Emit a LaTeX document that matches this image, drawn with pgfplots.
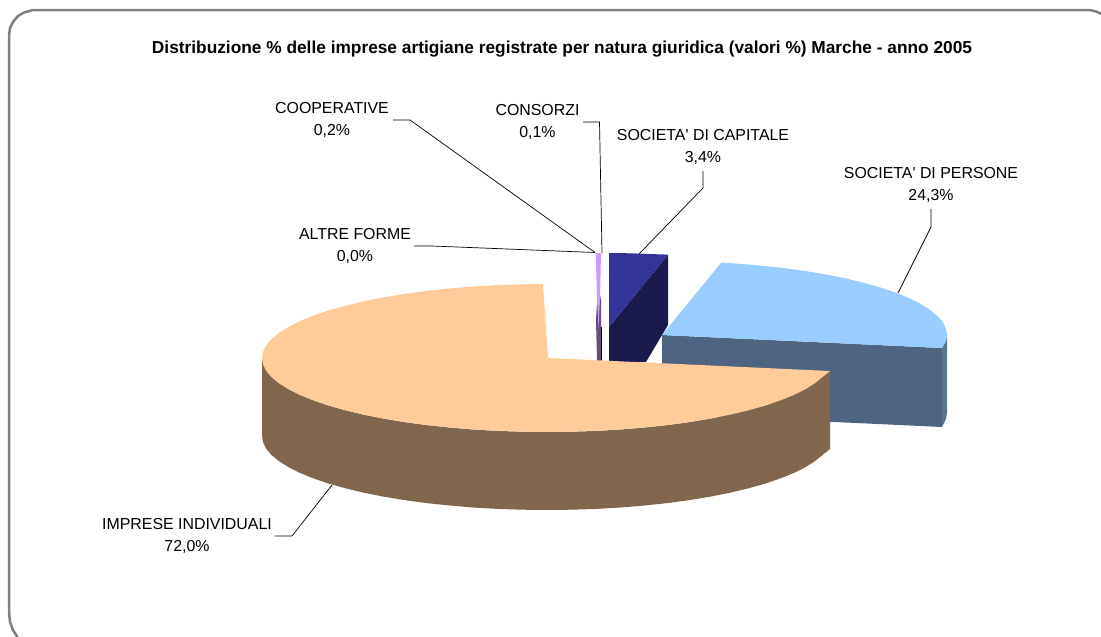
\documentclass[border=0pt]{standalone}
\usepackage{fontspec}
\setmainfont{Liberation Sans}
\usepackage{pgfplots}
\pgfplotsset{compat=1.18}

\definecolor{frame}{HTML}{808080}
\definecolor{peach}{HTML}{FFCC99}
\definecolor{brownside}{HTML}{7F664D}
\definecolor{sky}{HTML}{99CCFF}
\definecolor{skyside}{HTML}{4F6480}
\definecolor{skyarc}{HTML}{5A7391}
\definecolor{navy}{HTML}{333399}
\definecolor{navyside}{HTML}{1A1A4D}
\definecolor{lilac}{HTML}{CC99FF}
\definecolor{lilacside}{HTML}{664D80}

\newcommand{\lab}[4]{%
  \node[anchor=base,font=\fontsize{15.9}{18}\selectfont,inner sep=0pt] at (axis cs:#1,#2+5.7) {#3};
  \node[anchor=base,font=\fontsize{15.9}{18}\selectfont,inner sep=0pt] at (axis cs:#1,#2+27.7) {#4};
}

\begin{document}
\begin{tikzpicture}
\useasboundingbox (0,0) rectangle (1101pt,637pt);
\begin{axis}[
  width=1101pt, height=637pt,
  scale only axis,
  hide axis,
  xmin=0, xmax=1101,
  ymin=0, ymax=637,
  y dir=reverse,
  clip=true,
]
% chart frame, runs off the right and bottom edges
\addplot[frame, line width=2.5pt] coordinates {
  (18,638) (13,630) (10,622) (9,612) (9,36) (10,28) (13,22) (18,16) (24,12.5) (33,10)
  (1090,10) (1096,11.5) (1102,14)
};

% lilac slices
\addplot[fill=lilacside, draw=none] coordinates {
  (598,285) (596,320) (597,361) (601.5,361) (601,300) (598,285)
};
\addplot[fill=lilac, draw=none] coordinates {
  (595.8,253) (601,253) (600,300) (598.5,328) (597,300) (595.8,253)
};
\addplot[black, line width=0.7pt] coordinates {(601.5,327) (601.5,361)};

% dark blue slice
\addplot[fill=navyside, draw=none] coordinates {
  (609,327) (668,254.6) (668,325) (646,362) (609,362) (609,327)
};
\addplot[fill=navy, draw=none] coordinates {
  (609,327) (609,253) (625,253.2) (640,253.6) (655,254.2) (668,254.6) (609,327)
};

% light blue slice
\addplot[fill=skyside, draw=none] coordinates {
  (662,335) (942,348) (942,427) (662,414) (662,335)
};
\addplot[fill=skyarc, draw=none] coordinates {
  (942,348) (945.9,341.4) (947,335) (947,413) (945.9,419.4) (942,427) (942,348)
};
\addplot[fill=sky, draw=none] coordinates {
  (662,335) (721.3,262.6) (735.8,263.5) (759.5,265.5) (782.4,267.9) (804.5,270.9)
  (825.5,274.4) (845.2,278.3) (863.5,282.7) (880.3,287.4) (895.5,292.6) (908.8,298)
  (920.3,303.7) (929.8,309.7) (937.3,315.8) (942.7,322.1) (945.9,328.6) (947,335)
  (945.9,341.4) (942,348) (662,335)
};

% large slice
\addplot[fill=brownside, draw=none] coordinates {
  (262,358) (263.1,364.4) (266.3,370.9) (271.7,377.2) (279.2,383.3) (288.7,389.3)
  (300.2,395) (313.5,400.4) (328.7,405.6) (345.5,410.3) (363.8,414.7) (383.5,418.6)
  (404.5,422.1) (426.6,425.1) (449.5,427.5) (473.2,429.5) (497.5,430.9) (522.2,431.7)
  (547,432) (571.8,431.7) (596.5,430.9) (620.8,429.5) (644.5,427.5) (667.4,425.1)
  (689.5,422.1) (710.5,418.6) (730.2,414.7) (748.5,410.3) (765.3,405.6) (780.5,400.4)
  (793.8,395) (805.3,389.3) (814.8,383.3) (822.3,377.2) (830,371)
  (830,449) (822.3,455.2) (814.8,461.3) (805.3,467.3) (793.8,473) (780.5,478.4)
  (765.3,483.6) (748.5,488.3) (730.2,492.7) (710.5,496.6) (689.5,500.1) (667.4,503.1)
  (644.5,505.5) (620.8,507.5) (596.5,508.9) (571.8,509.7) (547,510) (522.2,509.7)
  (497.5,508.9) (473.2,507.5) (449.5,505.5) (426.6,503.1) (404.5,500.1) (383.5,496.6)
  (363.8,492.7) (345.5,488.3) (328.7,483.6) (313.5,478.4) (300.2,473) (288.7,467.3)
  (279.2,461.3) (271.7,455.2) (266.3,448.9) (263.1,442.4) (262,436) (262,358)
};
\addplot[fill=peach, draw=none] coordinates {
  (548,358) (830,371) (822.3,377.2) (814.8,383.3) (805.3,389.3) (793.8,395) (780.5,400.4)
  (765.3,405.6) (748.5,410.3) (730.2,414.7) (710.5,418.6) (689.5,422.1) (667.4,425.1)
  (644.5,427.5) (620.8,429.5) (596.5,430.9) (571.8,431.7) (547,432) (522.2,431.7)
  (497.5,430.9) (473.2,429.5) (449.5,427.5) (426.6,425.1) (404.5,422.1) (383.5,418.6)
  (363.8,414.7) (345.5,410.3) (328.7,405.6) (313.5,400.4) (300.2,395) (288.7,389.3)
  (279.2,383.3) (271.7,377.2) (266.3,370.9) (263.1,364.4) (262,358) (263.1,351.6)
  (266.3,345.1) (271.7,338.8) (279.2,332.7) (288.7,326.7) (300.2,321) (313.5,315.6)
  (328.7,310.4) (345.5,305.7) (363.8,301.3) (383.5,297.4) (404.5,293.9) (426.6,290.9)
  (449.5,288.5) (473.2,286.5) (497.5,285.1) (522.2,284.3) (543,284) (548,358)
};

% leader lines
\addplot[black, line width=0.7pt] coordinates {(393,120) (410,120) (595,252.5)};
\addplot[black, line width=0.7pt] coordinates {(583,122) (599.5,122) (602,253)};
\addplot[black, line width=0.7pt] coordinates {(414,246) (432,246) (595,252.5)};
\addplot[black, line width=0.7pt] coordinates {(703,171) (703,188) (639,254)};
\addplot[black, line width=0.7pt] coordinates {(931,209) (931,227) (898,293)};
\addplot[black, line width=0.7pt] coordinates {(275,536) (292,536) (332,485)};

% title and labels
\node[anchor=base,inner sep=0pt,font=\fontsize{14.6}{17}\selectfont\bfseries] at (axis cs:562,53)
  {\fontsize{17.3}{20}\selectfont Distribuzione \% delle imprese artigiane registrate per natura giuridica (valori \%) Marche - anno 2005};
\lab{332}{108}{COOPERATIVE}{0,2\%}
\lab{537.5}{110}{CONSORZI}{0,1\%}
\lab{355}{234}{ALTRE FORME}{0,0\%}
\lab{703}{135}{SOCIETA\textquotesingle{} DI CAPITALE}{3,4\%}
\lab{931}{173}{SOCIETA\textquotesingle{} DI PERSONE}{24,3\%}
\lab{187}{524}{IMPRESE INDIVIDUALI}{72,0\%}
\end{axis}
\end{tikzpicture}
\end{document}
